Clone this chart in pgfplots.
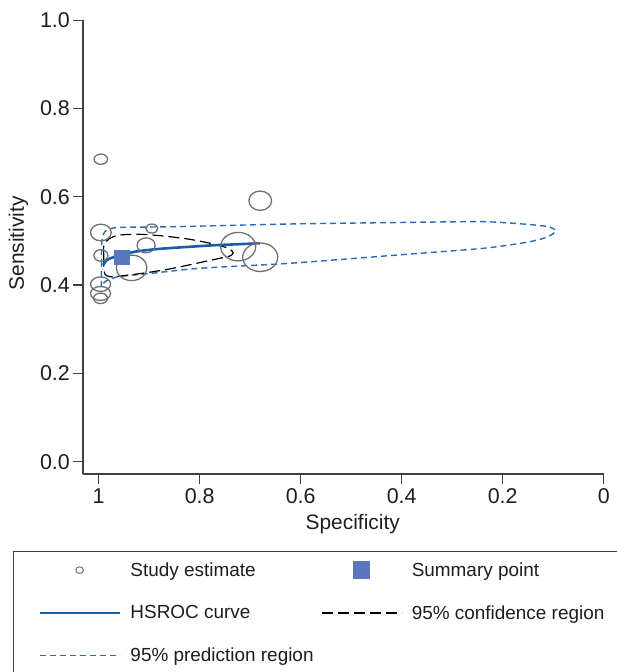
\documentclass[border=0pt]{standalone}
\usepackage{pgfplots}
\pgfplotsset{compat=1.18}
\usepackage{pgfplotstable}
\usepackage{fontspec}
\setmainfont{Liberation Sans}
\definecolor{circgray}{RGB}{112,112,112}
\definecolor{hsblue}{RGB}{24,92,172}
\definecolor{sumblue}{RGB}{90,118,190}
\definecolor{predblue}{RGB}{38,108,186}
\definecolor{axgray}{RGB}{64,64,64}
\definecolor{txt}{RGB}{30,30,30}

% study estimates: specificity, sensitivity, ellipse width and height (px)
\pgfplotstableread{
spec sens w h
0.9956 0.685 13.5 10.3
0.9956 0.519 20.7 16.7
0.8946 0.528 12.0 9.0
0.9060 0.490 18.0 15.0
0.9956 0.467 14.0 11.5
0.9348 0.439 30.7 25.5
0.9962 0.402 20.0 14.5
0.9962 0.381 20.0 14.0
0.9962 0.370 14.0 10.5
0.7237 0.487 35.0 28.5
0.6801 0.463 35.0 28.5
0.6801 0.591 22.7 19.3
}\studies

\pgfplotstableread{
spec sens
0.9911 0.4454
0.9857 0.4545
0.9778 0.4601
0.9614 0.4665
0.9283 0.4755
0.8887 0.4810
0.8491 0.4845
0.7732 0.4900
0.7269 0.4923
0.6807 0.4946
}\hsroc

\pgfplotstableread{
spec sens
0.9897 0.4642
0.9897 0.4900
0.9800 0.5040
0.9600 0.5130
0.9184 0.5149
0.8723 0.5111
0.8194 0.5036
0.7732 0.4930
0.7435 0.4833
0.7336 0.4733
0.7401 0.4658
0.7600 0.4606
0.8061 0.4493
0.8524 0.4380
0.9051 0.4280
0.9515 0.4212
0.9778 0.4189
0.9877 0.4250
0.9897 0.4400
0.9897 0.4642
}\conf

\pgfplotstableread{
spec sens
0.9943 0.4454
0.9943 0.4907
0.9927 0.5059
0.9877 0.5208
0.9745 0.5285
0.9481 0.5308
0.8491 0.5322
0.6213 0.5383
0.4035 0.5417
0.2385 0.5435
0.1525 0.5376
0.1097 0.5322
0.0945 0.5224
0.1129 0.5082
0.1525 0.4968
0.2385 0.4832
0.4035 0.4685
0.6213 0.4493
0.7996 0.4380
0.8952 0.4266
0.9614 0.4189
0.9877 0.4076
0.9943 0.3963
0.9943 0.4454
}\pred

\begin{document}
\begin{tikzpicture}[x=1bp,y=1bp]
\useasboundingbox (0,0) rectangle (617,-672);
\begin{axis}[
  at={(83bp,-474bp)}, anchor=south west,
  scale only axis, width=520.7bp, height=453.9bp,
  xmin=0, xmax=1.031, ymin=-0.0279, ymax=1,
  x dir=reverse,
  axis x line*=bottom, axis y line*=left,
  axis line style={axgray, line width=1.2bp},
  xtick={0,0.2,0.4,0.6,0.8,1}, xticklabels={0,0.2,0.4,0.6,0.8,1},
  ytick={0,0.2,0.4,0.6,0.8,1}, yticklabels={0.0,0.2,0.4,0.6,0.8,1.0},
  tick align=outside, major tick length=9.5bp,
  tick style={axgray, line width=1.2bp},
  tick label style={font=\fontsize{21.5}{24}\selectfont, text=txt},
  yticklabel style={inner xsep=3.5bp},
  xticklabel style={inner ysep=5bp},
  xlabel={Specificity}, ylabel={Sensitivity},
  label style={font=\fontsize{21}{24}\selectfont, text=txt},
  xlabel style={at={(axis description cs:0.518,-0.1218)}, anchor=base},
  ylabel style={at={(axis description cs:-0.1133,0.508)}, anchor=base},
  clip=false,
  legend columns=2,
  legend cell align=left,
  legend image code/.code={\draw[mark repeat=2,mark phase=2,#1] plot coordinates {(0bp,0bp) (40bp,0bp) (80bp,0bp)};},
  legend style={at={(axis description cs:-0.1352,-0.1696)}, anchor=north west,
    draw=axgray, line width=1.2bp, fill=white,
    inner xsep=25bp, inner ysep=10.5bp,
    font=\fontsize{19}{22}\selectfont, text=txt,
    nodes={inner sep=0pt},
    /tikz/row sep=27.3bp,
    /tikz/every odd column/.append style={column sep=9.5bp},
    /tikz/every even column/.append style={column sep=7.5bp}},
]
\addlegendimage{only marks, mark=o, mark size=3.3bp, circgray, line width=1bp, mark options={xscale=1.15}}
\addlegendentry{Study estimate}
\addlegendimage{only marks, mark=square*, mark size=8bp, sumblue}
\addlegendentry{Summary point}
\addlegendimage{hsblue, line width=2.8bp}
\addlegendentry{HSROC curve}
\addlegendimage{black, line width=1.2bp, dash pattern=on 11bp off 5bp}
\addlegendentry{95\% confidence region}
\addlegendimage{predblue, line width=1.4bp, dash pattern=on 6bp off 4bp}
\addlegendentry{95\% prediction region}

\addplot[forget plot, predblue, line width=1.4bp, dash pattern=on 6bp off 4bp, smooth, tension=0.4]
  table[x=spec,y=sens]{\pred};
\addplot[forget plot, black, line width=1.2bp, dash pattern=on 11bp off 5bp, smooth, tension=0.5]
  table[x=spec,y=sens]{\conf};
\addplot[forget plot, scatter, only marks, mark=o, mark size=0.5bp,
  visualization depends on={\thisrow{w} \as \ew},
  visualization depends on={\thisrow{h} \as \eh},
  scatter/@pre marker code/.code={\scope[xscale=\ew, yscale=\eh, draw=circgray, line width=1.3bp]},
  scatter/@post marker code/.code={\endscope}]
  table[x=spec,y=sens]{\studies};
\addplot[forget plot, hsblue, line width=2.6bp, smooth, tension=0.5]
  table[x=spec,y=sens]{\hsroc};
\addplot[forget plot, only marks, mark=square*, mark size=7.7bp, sumblue, mark options={yscale=0.88}]
  coordinates {(0.9546,0.4636)};
\end{axis}
\end{tikzpicture}
\end{document}
